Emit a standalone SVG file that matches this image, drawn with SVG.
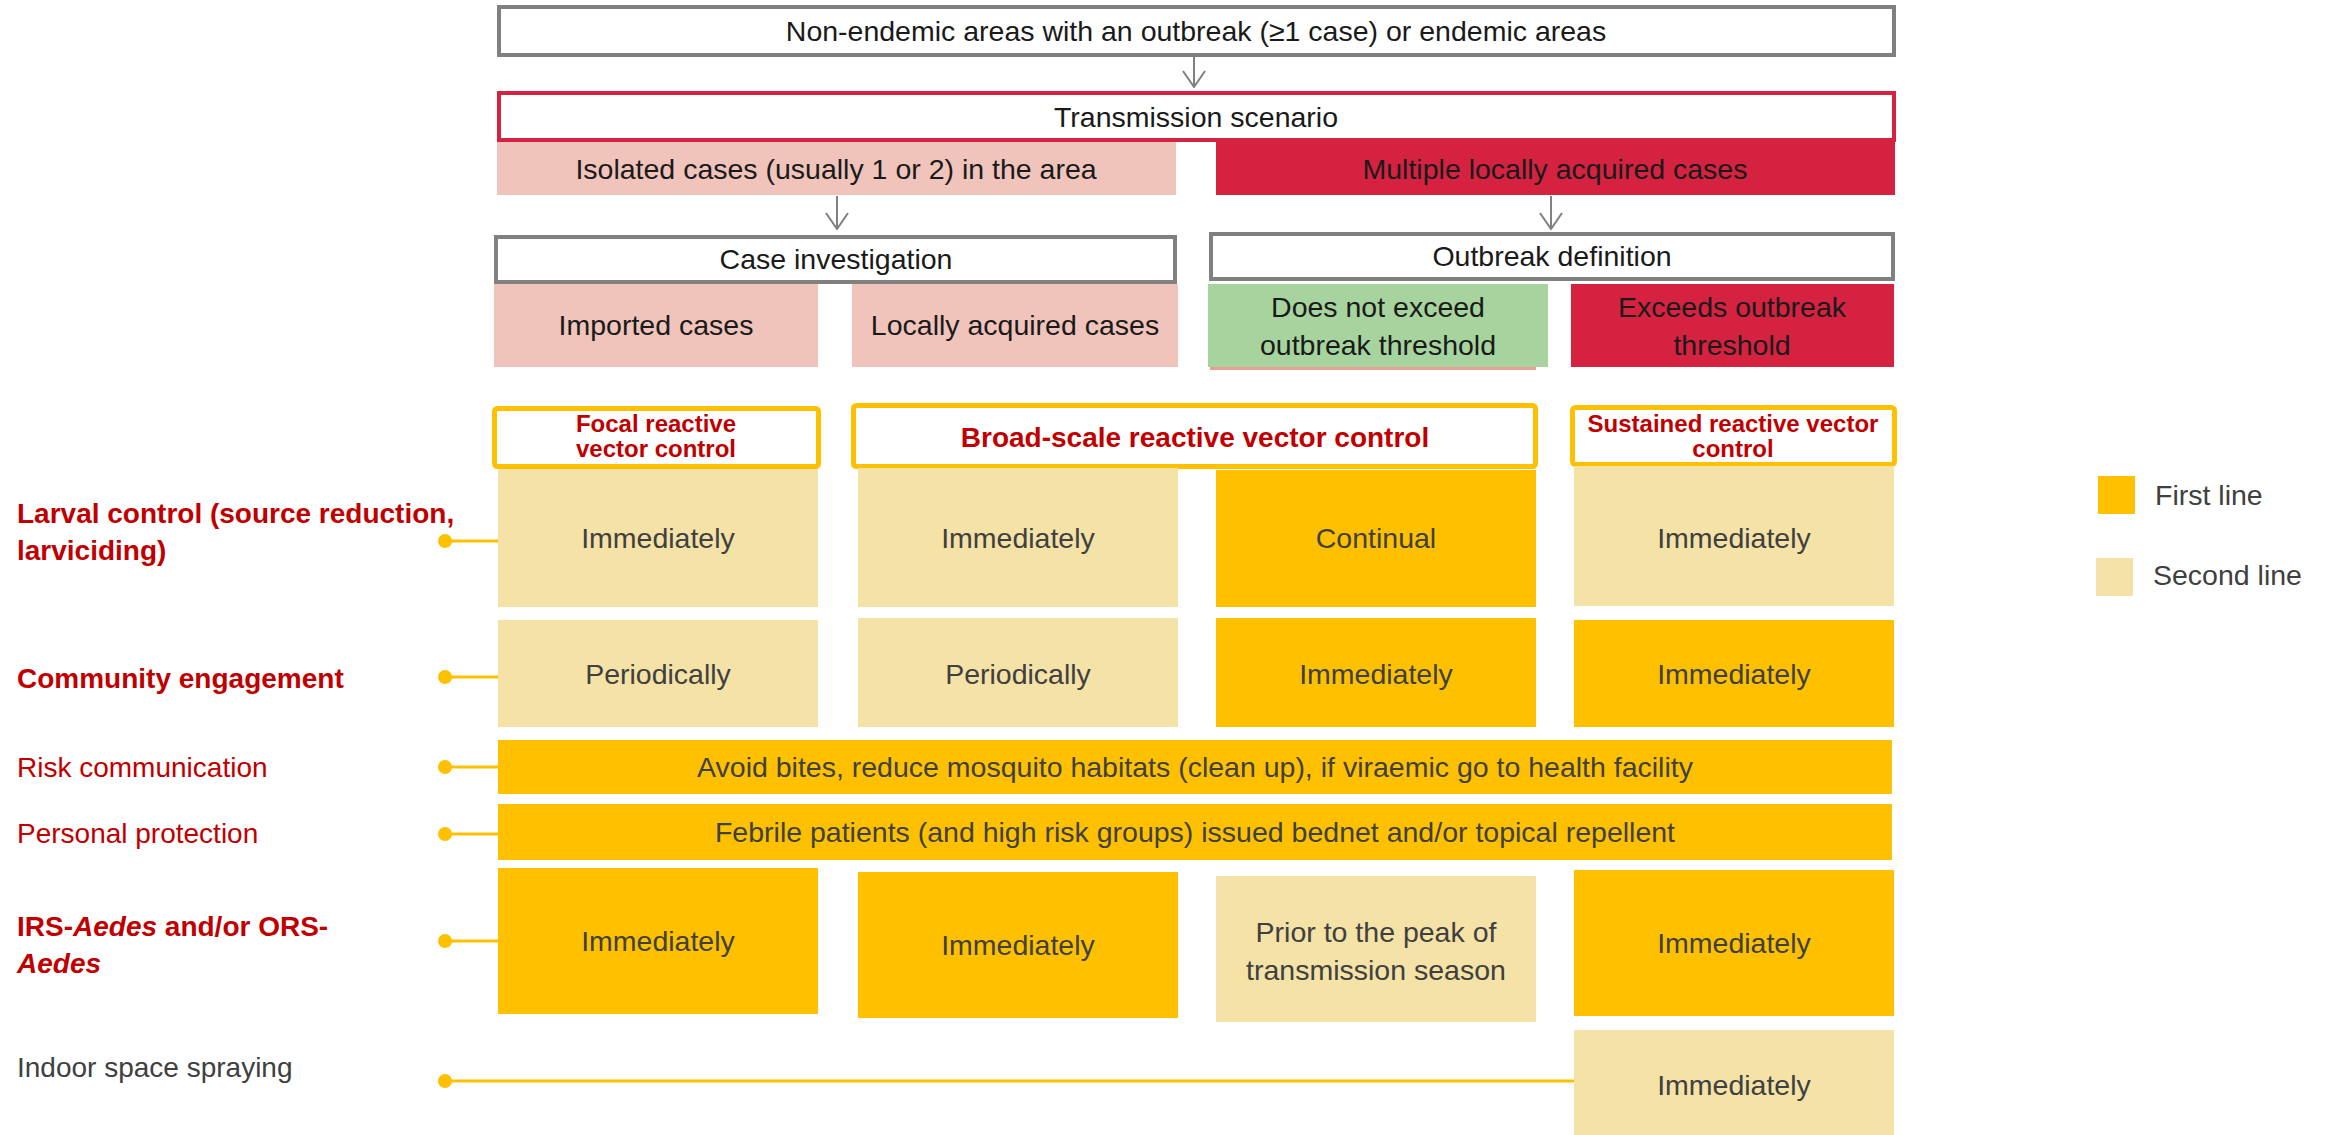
<svg xmlns="http://www.w3.org/2000/svg" width="2325" height="1135" viewBox="0 0 2325 1135">
  <defs>
    <style>
      text { font-family: "Liberation Sans", Arial, sans-serif; }
      .t { font-size: 28.5px; fill: #1a1a1a; text-anchor: middle; }
      .c { font-size: 28.5px; fill: #404040; text-anchor: middle; }
      .hd { font-weight: bold; fill: #C00000; text-anchor: middle; }
      .lbl { font-size: 28px; fill: #C00000; }
      .lblb { font-size: 28px; fill: #C00000; font-weight: bold; }
      .gbox { fill: #ffffff; stroke: #808080; stroke-width: 4; }
      .rbox { fill: #ffffff; stroke: #D42240; stroke-width: 4; }
      .ybox { fill: #ffffff; stroke: #FFC000; stroke-width: 5; }
      .pink { fill: #F1C4BB; }
      .red { fill: #D42240; }
      .green { fill: #A7D49E; }
      .first { fill: #FFC000; }
      .second { fill: #F4E2A6; }
      .arr { stroke: #808080; stroke-width: 2; fill: none; }
      .lead { stroke: #FFC000; stroke-width: 3; fill: none; }
      .dot { fill: #FFC000; }
    </style>
    <!-- open V arrowhead, drawn pointing along +x so orient="auto" turns it with the line -->
    <marker id="vhead" viewBox="0 0 18 24" refX="17" refY="12" markerWidth="18" markerHeight="24" markerUnits="userSpaceOnUse" orient="auto">
      <path d="M1,1 L17,12 L1,23" fill="none" stroke="#808080" stroke-width="2"/>
    </marker>
  </defs>

  <!-- decision tree -->
  <g id="scope">
    <rect class="gbox" x="499" y="7" width="1395" height="48"/>
    <text class="t" x="1196" y="41">Non-endemic areas with an outbreak (≥1 case) or endemic areas</text>
  </g>
  <g id="scenario">
    <rect class="rbox" x="499" y="93" width="1395" height="47"/>
    <text class="t" x="1196" y="127">Transmission scenario</text>
  </g>
  <g id="isolated">
    <rect class="pink" x="497" y="142" width="679" height="53"/>
    <text class="t" x="836" y="179">Isolated cases (usually 1 or 2) in the area</text>
  </g>
  <g id="multiple">
    <rect class="red" x="1216" y="142" width="679" height="53"/>
    <text class="t" x="1555" y="179">Multiple locally acquired cases</text>
  </g>
  <g id="case-investigation">
    <rect class="gbox" x="496" y="237" width="679" height="45"/>
    <text class="t" x="836" y="269">Case investigation</text>
  </g>
  <g id="outbreak-definition">
    <rect class="gbox" x="1211" y="234" width="682" height="45"/>
    <text class="t" x="1552" y="266">Outbreak definition</text>
  </g>
  <g id="imported">
    <rect class="pink" x="494" y="284" width="324" height="83"/>
    <text class="t" x="656" y="335">Imported cases</text>
  </g>
  <g id="locally-acquired">
    <rect class="pink" x="852" y="284" width="326" height="83"/>
    <text class="t" x="1015" y="335">Locally acquired cases</text>
  </g>
  <g id="below-threshold">
    <rect x="1210" y="366" width="326" height="4" fill="#E8A191"/>
    <rect class="green" x="1208" y="284" width="340" height="83"/>
    <text class="t" x="1378" y="317">Does not exceed</text>
    <text class="t" x="1378" y="355">outbreak threshold</text>
  </g>
  <g id="above-threshold">
    <rect class="red" x="1571" y="284" width="323" height="83"/>
    <text class="t" x="1732" y="317">Exceeds outbreak</text>
    <text class="t" x="1732" y="355">threshold</text>
  </g>

  <!-- response column headers -->
  <g id="focal-header">
    <rect class="ybox" x="494.5" y="408.5" width="324" height="58" rx="3"/>
    <text class="hd" x="656" y="432" font-size="24">Focal reactive</text>
    <text class="hd" x="656" y="457" font-size="24">vector control</text>
  </g>
  <g id="broad-header">
    <rect class="ybox" x="853.5" y="405.5" width="682" height="61" rx="3"/>
    <text class="hd" x="1195" y="447" font-size="28">Broad-scale reactive vector control</text>
  </g>
  <g id="sustained-header">
    <rect class="ybox" x="1572.5" y="407.5" width="322" height="57" rx="3"/>
    <text class="hd" x="1733" y="432" font-size="24">Sustained reactive vector</text>
    <text class="hd" x="1733" y="457" font-size="24">control</text>
  </g>

  <!-- intervention labels -->
  <g id="label-larval">
    <text class="lblb" x="17" y="523">Larval control (source reduction,</text>
    <text class="lblb" x="17" y="560">larviciding)</text>
  </g>
  <g id="label-community">
    <text class="lblb" x="17" y="688">Community engagement</text>
  </g>
  <g id="label-risk">
    <text class="lbl" x="17" y="777">Risk communication</text>
  </g>
  <g id="label-personal">
    <text class="lbl" x="17" y="843">Personal protection</text>
  </g>
  <g id="label-irs">
    <text class="lblb" x="17" y="936">IRS-<tspan font-style="italic">Aedes</tspan> and/or ORS-</text>
    <text class="lblb" x="17" y="973" font-style="italic">Aedes</text>
  </g>
  <g id="label-indoor">
    <text class="lbl" x="17" y="1077" style="fill:#404040">Indoor space spraying</text>
  </g>

  <!-- larval control row -->
  <g id="larval-focal">
    <rect class="second" x="498" y="469" width="320" height="138"/>
    <text class="c" x="658" y="548">Immediately</text>
  </g>
  <g id="larval-broad-a">
    <rect class="second" x="858" y="468" width="320" height="139"/>
    <text class="c" x="1018" y="548">Immediately</text>
  </g>
  <g id="larval-broad-b">
    <rect class="first" x="1216" y="470" width="320" height="137"/>
    <text class="c" x="1376" y="548">Continual</text>
  </g>
  <g id="larval-sustained">
    <rect class="second" x="1574" y="466" width="320" height="140"/>
    <text class="c" x="1734" y="548">Immediately</text>
  </g>

  <!-- community engagement row -->
  <g id="community-focal">
    <rect class="second" x="498" y="620" width="320" height="107"/>
    <text class="c" x="658" y="684">Periodically</text>
  </g>
  <g id="community-broad-a">
    <rect class="second" x="858" y="618" width="320" height="109"/>
    <text class="c" x="1018" y="684">Periodically</text>
  </g>
  <g id="community-broad-b">
    <rect class="first" x="1216" y="618" width="320" height="109"/>
    <text class="c" x="1376" y="684">Immediately</text>
  </g>
  <g id="community-sustained">
    <rect class="first" x="1574" y="620" width="320" height="107"/>
    <text class="c" x="1734" y="684">Immediately</text>
  </g>

  <!-- full-width rows -->
  <g id="risk-all">
    <rect class="first" x="498" y="740" width="1394" height="54"/>
    <text class="c" x="1195" y="777">Avoid bites, reduce mosquito habitats (clean up), if viraemic go to health facility</text>
  </g>
  <g id="personal-all">
    <rect class="first" x="498" y="804" width="1394" height="56"/>
    <text class="c" x="1195" y="842">Febrile patients (and high risk groups) issued bednet and/or topical repellent</text>
  </g>

  <!-- residual spraying row -->
  <g id="irs-focal">
    <rect class="first" x="498" y="868" width="320" height="146"/>
    <text class="c" x="658" y="951">Immediately</text>
  </g>
  <g id="irs-broad-a">
    <rect class="first" x="858" y="872" width="320" height="146"/>
    <text class="c" x="1018" y="955">Immediately</text>
  </g>
  <g id="irs-broad-b">
    <rect class="second" x="1216" y="876" width="320" height="146"/>
    <text class="c" x="1376" y="942">Prior to the peak of</text>
    <text class="c" x="1376" y="980">transmission season</text>
  </g>
  <g id="irs-sustained">
    <rect class="first" x="1574" y="870" width="320" height="146"/>
    <text class="c" x="1734" y="953">Immediately</text>
  </g>

  <!-- indoor space spraying row -->
  <g id="indoor-sustained">
    <rect class="second" x="1574" y="1030" width="320" height="105"/>
    <text class="c" x="1734" y="1095">Immediately</text>
  </g>

  <!-- legend -->
  <g id="legend-first">
    <rect class="first" x="2098" y="476" width="37" height="38"/>
    <text x="2155" y="505" font-size="28.5" fill="#404040">First line</text>
  </g>
  <g id="legend-second">
    <rect class="second" x="2096" y="558" width="37" height="38"/>
    <text x="2153" y="585" font-size="28.5" fill="#404040">Second line</text>
  </g>

  <!-- connectors -->
  <g id="connectors">
    <line class="arr" x1="1194" y1="56" x2="1194" y2="87" marker-end="url(#vhead)"/>
    <line class="arr" x1="837" y1="196" x2="837" y2="229" marker-end="url(#vhead)"/>
    <line class="arr" x1="1551" y1="196" x2="1551" y2="229" marker-end="url(#vhead)"/>

    <line class="lead" x1="445" y1="541" x2="498" y2="541"/>
    <circle class="dot" cx="445" cy="541" r="7"/>
    <line class="lead" x1="445" y1="677" x2="498" y2="677"/>
    <circle class="dot" cx="445" cy="677" r="7"/>
    <line class="lead" x1="445" y1="767" x2="498" y2="767"/>
    <circle class="dot" cx="445" cy="767" r="7"/>
    <line class="lead" x1="445" y1="834" x2="498" y2="834"/>
    <circle class="dot" cx="445" cy="834" r="7"/>
    <line class="lead" x1="445" y1="941" x2="498" y2="941"/>
    <circle class="dot" cx="445" cy="941" r="7"/>
    <line class="lead" x1="445" y1="1081" x2="1574" y2="1081"/>
    <circle class="dot" cx="445" cy="1081" r="7"/>
  </g>
</svg>
